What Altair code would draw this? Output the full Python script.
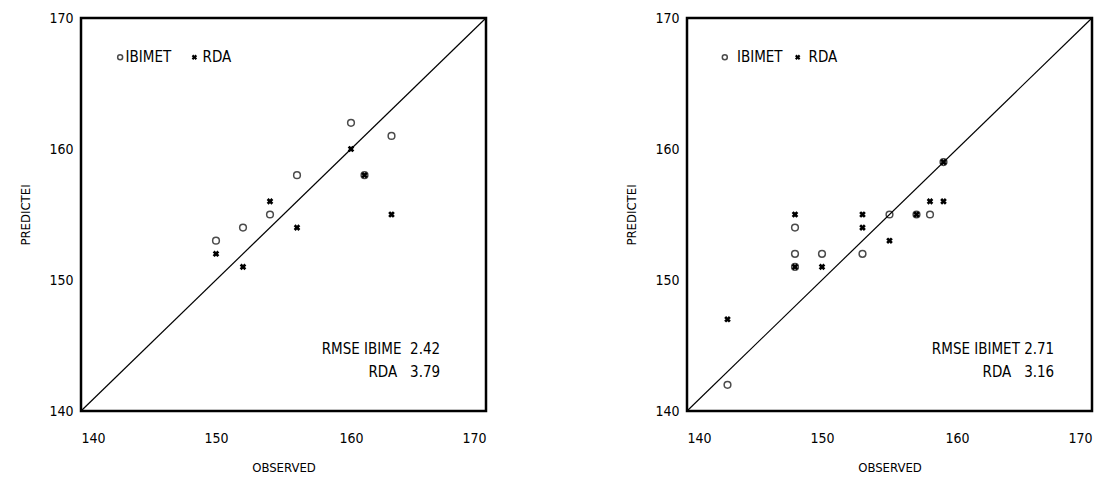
import altair as alt
import pandas as pd

FONT = "Liberation Sans Narrow, DejaVu Sans Condensed, sans-serif"
NB = "\u00a0"

# Left panel data
l_ib_obs = [150, 152, 154, 156, 160, 163, 161]
l_ib_pred = [153, 154, 155, 158, 162, 161, 158]
l_rda_obs = [150, 152, 154, 156, 160, 161, 163]
l_rda_pred = [152, 151, 156, 154, 160, 158, 155]

# Right panel data
r_ib_obs = [143, 148, 148, 148, 150, 153, 155, 157, 158, 159]
r_ib_pred = [142, 154, 152, 151, 152, 152, 155, 155, 155, 159]
r_rda_obs = [143, 148, 148, 150, 153, 153, 155, 157, 158, 159, 159]
r_rda_pred = [147, 155, 151, 151, 155, 154, 153, 155, 156, 156, 159]

l_rmse = ["RMSE IBIME" + NB + NB + "2.42", "RDA" + NB + NB + NB + "3.79"]
r_rmse = ["RMSE IBIMET 2.71", "RDA" + NB + NB + NB + "3.16"]
rmse_y = [144.7, 143.0]
ticks = [140, 150, 160, 170]
DOMAIN = [140, 170]


def panel(ib_obs, ib_pred, rda_obs, rda_pred, rmse, rmse_x, leg_x):
    xs = alt.Scale(domain=DOMAIN, nice=False, zero=False)
    ys = alt.Scale(domain=DOMAIN, nice=False, zero=False)
    xax = alt.Axis(values=ticks, title="OBSERVED", grid=False, domain=False, ticks=False,
                   labelPadding=20, titlePadding=16, labelFontSize=14, titleFontSize=13,
                   labelFont=FONT, titleFont=FONT, titleFontWeight="normal")
    yax = alt.Axis(values=ticks, title="PREDICTEI", grid=False, domain=False, ticks=False,
                   labelPadding=8, titlePadding=16, labelFontSize=14, titleFontSize=13,
                   labelFont=FONT, titleFont=FONT, titleFontWeight="normal")

    line_df = pd.DataFrame({"o": DOMAIN, "p": DOMAIN})
    line = alt.Chart(line_df).mark_line(color="black", strokeWidth=1.2).encode(
        x=alt.X("o:Q", scale=xs, axis=xax), y=alt.Y("p:Q", scale=ys, axis=yax))

    ib_df = pd.DataFrame({"o": ib_obs, "p": ib_pred})
    ib = alt.Chart(ib_df).mark_point(shape="circle", filled=False, color="black",
                                     size=45, strokeWidth=1.5).encode(
        x=alt.X("o:Q", scale=xs), y=alt.Y("p:Q", scale=ys))

    rda_df = pd.DataFrame({"o": rda_obs, "p": rda_pred})
    rda = alt.Chart(rda_df).mark_point(shape="cross", filled=True, color="black",
                                       size=45, angle=45, opacity=1).encode(
        x=alt.X("o:Q", scale=xs), y=alt.Y("p:Q", scale=ys))

    # legend inside plot
    leg_c = alt.Chart(pd.DataFrame({"o": [leg_x[0]], "p": [167]})).mark_point(
        shape="circle", filled=False, color="black", size=25, strokeWidth=1.5).encode(
        x=alt.X("o:Q", scale=xs), y=alt.Y("p:Q", scale=ys))
    leg_x_m = alt.Chart(pd.DataFrame({"o": [leg_x[2]], "p": [167]})).mark_point(
        shape="cross", filled=True, color="black", size=30, angle=45, opacity=1).encode(
        x=alt.X("o:Q", scale=xs), y=alt.Y("p:Q", scale=ys))
    leg_t = alt.Chart(pd.DataFrame({"o": [leg_x[1], leg_x[3]], "p": [167, 167],
                                    "t": ["IBIMET", "RDA"]})).mark_text(
        align="left", baseline="middle", fontSize=15, font=FONT, color="black").encode(
        x=alt.X("o:Q", scale=xs), y=alt.Y("p:Q", scale=ys), text="t:N")

    rm = alt.Chart(pd.DataFrame({"o": [rmse_x, rmse_x], "p": rmse_y, "t": rmse})).mark_text(
        align="right", baseline="middle", fontSize=15, font=FONT, color="black").encode(
        x=alt.X("o:Q", scale=xs), y=alt.Y("p:Q", scale=ys), text="t:N")

    return alt.layer(line, ib, rda, leg_c, leg_x_m, leg_t, rm).properties(width=405, height=393)


left = panel(l_ib_obs, l_ib_pred, l_rda_obs, l_rda_pred, l_rmse, 166.6,
             [142.9, 143.3, 148.4, 149.0])
right = panel(r_ib_obs, r_ib_pred, r_rda_obs, r_rda_pred, r_rmse, 167.2,
              [142.8, 143.7, 148.2, 149.0])

chart = alt.hconcat(left, right, spacing=134).configure(
    background="white",
    padding={"left": 10, "top": 1, "right": 5, "bottom": 5},
).configure_view(stroke="black", strokeWidth=2.5)

chart.save("out.html", embed_options={"renderer": "svg", "actions": False})
